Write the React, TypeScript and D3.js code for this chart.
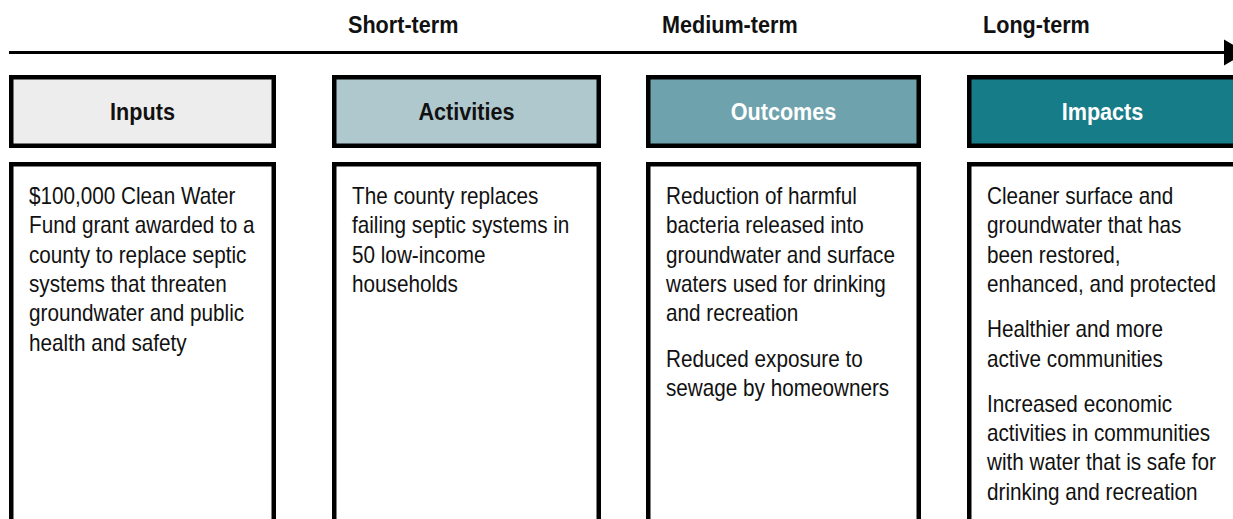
import React, { useEffect, useRef } from 'react';
import * as d3 from 'd3';

// logic model: stages, timeline labels and the text in each column
const stages = ['Inputs', 'Activities', 'Outcomes', 'Impacts'];
const stageFills = ['#ededed', '#afc8cd', '#6ea3ad', '#167c87'];
const stageTextColors = ['#111111', '#111111', '#ffffff', '#ffffff'];
const timeline = ['', 'Short-term', 'Medium-term', 'Long-term'];

const inputsText = [
  ['$100,000 Clean Water', 'Fund grant awarded to a', 'county to replace septic', 'systems that threaten', 'groundwater and public', 'health and safety'],
];
const activitiesText = [
  ['The county replaces', 'failing septic systems in', '50 low-income', 'households'],
];
const outcomesText = [
  ['Reduction of harmful', 'bacteria released into', 'groundwater and surface', 'waters used for drinking', 'and recreation'],
  ['Reduced exposure to', 'sewage by homeowners'],
];
const impactsText = [
  ['Cleaner surface and', 'groundwater that has', 'been restored,', 'enhanced, and protected'],
  ['Healthier and more', 'active communities'],
  ['Increased economic', 'activities in communities', 'with water that is safe for', 'drinking and recreation'],
];
const columnTexts = [inputsText, activitiesText, outcomesText, impactsText];

export default function App() {
  const svgRef = useRef<SVGSVGElement | null>(null);

  useEffect(() => {
    if (!svgRef.current) return;
    const width = 1233, height = 519;
    const font = '"Liberation Sans", Arial, sans-serif';
    const sx = 0.9; // source text looks slightly condensed

    // outer column edges as measured
    const colLeft = [9, 332, 646, 967];
    const colRight = [276, 601, 921, 1238];
    const bw = 4.5;

    const color = d3.scaleOrdinal<string, string>().domain(stages).range(stageFills);
    const textColor = d3.scaleOrdinal<string, string>().domain(stages).range(stageTextColors);

    const svg = d3.select(svgRef.current);
    svg.selectAll('*').remove();
    svg.attr('width', width).attr('height', height);

    // timeline arrow
    const arrowY = 52.5;
    svg.append('line')
      .attr('x1', 9).attr('x2', 1226)
      .attr('y1', arrowY).attr('y2', arrowY)
      .attr('stroke', '#000').attr('stroke-width', 3);
    svg.append('path')
      .attr('d', d3.line()([[1224, arrowY - 13], [1246, arrowY], [1224, arrowY + 13]]) + 'Z')
      .attr('fill', '#000');

    svg.selectAll('.timeLabel')
      .data(timeline.map((t, i) => ({ t, i })).filter(d => d.t))
      .enter().append('text')
      .attr('class', 'timeLabel')
      .attr('transform', d => `translate(${colLeft[d.i] + 16},33) scale(${sx},1)`)
      .style('font-family', font)
      .style('font-weight', 'bold')
      .style('font-size', '24px')
      .attr('fill', '#111')
      .text(d => d.t);

    const col = svg.selectAll('.col')
      .data(stages)
      .enter().append('g')
      .attr('class', 'col');

    // header boxes
    const headTop = 75, headBottom = 148;
    col.append('rect')
      .attr('x', (d, i) => colLeft[i] + bw / 2)
      .attr('y', headTop + bw / 2)
      .attr('width', (d, i) => colRight[i] - colLeft[i] - bw)
      .attr('height', headBottom - headTop - bw)
      .attr('fill', d => color(d))
      .attr('stroke', '#000')
      .attr('stroke-width', bw);

    col.append('text')
      .attr('transform', (d, i) => `translate(${(colLeft[i] + colRight[i]) / 2},${(headTop + headBottom) / 2 + 8.5}) scale(${sx},1)`)
      .attr('text-anchor', 'middle')
      .style('font-family', font)
      .style('font-weight', 'bold')
      .style('font-size', '24px')
      .attr('fill', d => textColor(d))
      .text(d => d);

    // body boxes (run off the bottom of the picture)
    const bodyTop = 162;
    col.append('rect')
      .attr('x', (d, i) => colLeft[i] + bw / 2)
      .attr('y', bodyTop + bw / 2)
      .attr('width', (d, i) => colRight[i] - colLeft[i] - bw)
      .attr('height', 400)
      .attr('fill', '#fff')
      .attr('stroke', '#000')
      .attr('stroke-width', bw);

    const lineH = 29.3, paraGap = 16, firstBase = 204;
    col.each(function (d, i) {
      const g = d3.select(this);
      let y = firstBase;
      columnTexts[i].forEach((para, p) => {
        if (p > 0) y += paraGap;
        para.forEach(line => {
          g.append('text')
            .attr('transform', `translate(${colLeft[i] + 20},${y}) scale(${sx},1)`)
            .style('font-family', font)
            .style('font-size', '23px')
            .attr('fill', '#111')
            .text(line);
          y += lineH;
        });
      });
    });
  }, []);

  return (
    <svg ref={svgRef} style={{ position: 'absolute', left: 0, top: 0, background: '#fff' }}></svg>
  );
}
